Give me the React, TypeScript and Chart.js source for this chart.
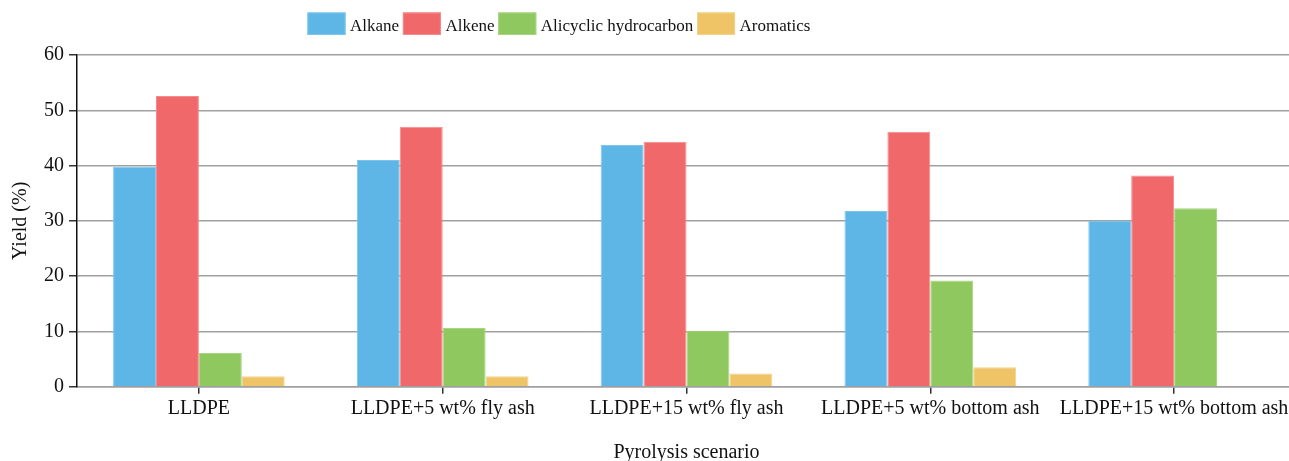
import React, { useEffect, useRef } from "react";
import { Chart, registerables } from "chart.js";

Chart.register(...registerables);

const categories = [
  "LLDPE",
  "LLDPE+5 wt% fly ash",
  "LLDPE+15 wt% fly ash",
  "LLDPE+5 wt% bottom ash",
  "LLDPE+15 wt% bottom ash",
];
const seriesNames = ["Alkane", "Alkene", "Alicyclic hydrocarbon", "Aromatics"];
const alkane = [39.8, 41.0, 43.7, 31.8, 30.0];
const alkene = [52.6, 47.0, 44.3, 46.1, 38.2];
const alicyclic = [6.1, 10.6, 10.1, 19.2, 32.3];
const aromatics = [1.9, 1.9, 2.4, 3.5, null];
const yTicks = [0, 10, 20, 30, 40, 50, 60];

const fills = ["#5db6e6", "#f1686b", "#8fc85f", "#eec467"];
const edges = ["#7cc6ee", "#f58a8c", "#a6d67e", "#f3d38a"];

const FONT = "'Liberation Serif', 'Times New Roman', serif";

const legendPlugin = {
  id: "customLegend",
  afterDraw(chart: any) {
    const ctx = chart.ctx;
    ctx.save();
    ctx.font = `17px ${FONT}`;
    ctx.textBaseline = "alphabetic";
    ctx.textAlign = "left";
    let x = 307.5;
    chart.data.datasets.forEach((ds: any, i: number) => {
      ctx.fillStyle = ds.backgroundColor;
      ctx.fillRect(x, 12.5, 38, 22.5);
      ctx.strokeStyle = ds.borderColor;
      ctx.lineWidth = 1;
      ctx.strokeRect(x + 0.5, 13, 37, 21.5);
      ctx.fillStyle = "#111";
      ctx.fillText(ds.label, x + 42.5, 30.5);
      x += 42.5 + ctx.measureText(ds.label).width + 3.8;
    });
    ctx.restore();
  },
};

export default function App() {
  const ref = useRef<HTMLCanvasElement | null>(null);

  useEffect(() => {
    if (!ref.current) return;
    const data = [alkane, alkene, alicyclic, aromatics];
    const chart = new Chart(ref.current, {
      type: "bar",
      data: {
        labels: categories,
        datasets: seriesNames.map((name, i) => ({
          label: name,
          data: data[i] as any,
          backgroundColor: fills[i],
          borderColor: edges[i],
          borderWidth: 1,
          categoryPercentage: 0.704,
          barPercentage: 1.0,
        })),
      },
      options: {
        animation: false,
        responsive: true,
        maintainAspectRatio: false,
        layout: { padding: { top: 55, right: 4, left: 0, bottom: 0 } },
        plugins: {
          legend: { display: false },
          tooltip: { enabled: false },
        },
        scales: {
          x: {
            offset: true,
            afterFit: (scale: any) => {
              scale.height = 480 - 386.7;
            },
            grid: {
              offset: false,
              drawOnChartArea: false,
              drawTicks: true,
              tickLength: 7,
              tickColor: "#333",
              lineWidth: 1.5,
            },
            border: { display: true, color: "#a0a0a0", width: 1.5 },
            ticks: {
              color: "#111",
              font: { family: FONT, size: 20 },
              padding: 3,
              maxRotation: 0,
              autoSkip: false,
            },
            title: {
              display: true,
              text: "Pyrolysis scenario",
              color: "#111",
              font: { family: FONT, size: 20 },
              padding: { top: 15, bottom: 15 },
            },
          },
          y: {
            min: 0,
            max: 60,
            afterFit: (scale: any) => {
              scale.width = 77;
            },
            afterBuildTicks: (scale: any) => {
              scale.ticks = yTicks.map((v) => ({ value: v }));
            },
            grid: {
              color: "#a0a0a0",
              lineWidth: 1.5,
              tickColor: "#333",
              tickLength: 8,
            },
            border: { display: true, color: "#111", width: 1.5 },
            ticks: {
              color: "#111",
              font: { family: FONT, size: 20 },
              padding: 5,
            },
            title: {
              display: true,
              text: "Yield (%)",
              color: "#111",
              font: { family: FONT, size: 20 },
              padding: { top: 9, bottom: 9 },
            },
          },
        },
      },
      plugins: [legendPlugin],
    });
    return () => chart.destroy();
  }, []);

  return (
    <div
      style={{
        position: "fixed",
        left: 0,
        top: 0,
        width: 1289,
        height: 461,
        overflow: "hidden",
        background: "#fff",
      }}
    >
      <div style={{ position: "relative", width: 1300, height: 480 }}>
        <canvas ref={ref} />
      </div>
    </div>
  );
}
